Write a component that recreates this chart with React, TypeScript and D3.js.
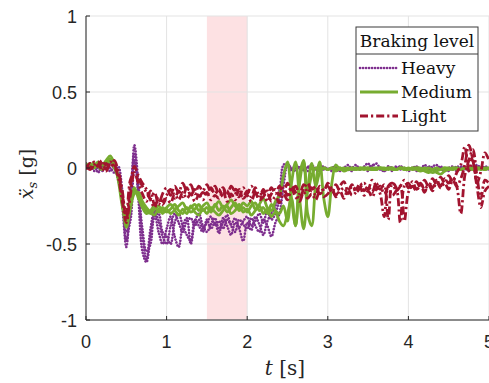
import React from "react";
import * as d3 from "d3";

const W = 489;
const H = 383;

const xTicks = [0, 1, 2, 3, 4, 5];
const yTicks = [-1, -0.5, 0, 0.5, 1];
const yTickLabels = ["-1", "-0.5", "0", "0.5", "1"];
const shadedWindow = [1.5, 2.0];
const sampleStep = 0.05;

const heavy1 = [
  0.02, 0.01, 0.03, 0.0, -0.02, 0.02, 0.0, -0.03, 0.01, -0.15,
  -0.48, -0.3, 0.15, -0.1, -0.45, -0.6, -0.4, -0.28, -0.35, -0.45,
  -0.5, -0.38, -0.3, -0.36, -0.42, -0.35, -0.33, -0.38, -0.34, -0.4,
  -0.36, -0.32, -0.38, -0.35, -0.4, -0.34, -0.37, -0.33, -0.39, -0.35,
  -0.32, -0.38, -0.35, -0.3, -0.36, -0.28, -0.34, -0.3, -0.2, 0.02,
  0.03, -0.01, 0.02, -0.01, 0.0, -0.02, 0.01, -0.01, -0.02, 0.0,
  -0.01, 0.0, -0.02, -0.01, 0.0, -0.01, -0.02, 0.0, -0.01, 0.01,
  0.03, -0.01, 0.0, -0.01, -0.02, 0.0, -0.01, 0.01, -0.01, 0.0,
  -0.01, 0.0, -0.02, 0.0, -0.01, 0.01, 0.0, -0.01, 0.0, -0.02,
  0.0, -0.01, 0.01, 0.0, -0.01, 0.0, 0.01, -0.01, 0.0, 0.0,
  -0.01,
];
const heavy2 = [
  0.0, 0.03, -0.02, 0.01, 0.02, -0.01, 0.03, 0.0, -0.05, -0.25,
  -0.52, -0.2, 0.1, -0.2, -0.55, -0.62, -0.45, -0.3, -0.42, -0.5,
  -0.4, -0.32, -0.45, -0.52, -0.38, -0.33, -0.5, -0.36, -0.3, -0.38,
  -0.42, -0.37, -0.33, -0.4, -0.36, -0.31, -0.38, -0.42, -0.34, -0.37,
  -0.4, -0.33, -0.38, -0.42, -0.34, -0.38, -0.45, -0.36, -0.3, -0.12,
  0.02, -0.02, 0.0, 0.01, -0.02, 0.01, -0.01, 0.0, 0.01, -0.01,
  0.0, -0.02, 0.01, -0.01, 0.0, 0.02, -0.01, 0.0, -0.01, 0.0,
  -0.02, 0.01, 0.03, 0.0, -0.01, 0.01, -0.02, 0.0, 0.01, -0.01,
  0.0, -0.01, 0.01, -0.02, 0.0, -0.01, 0.01, 0.02, -0.01, 0.0,
  -0.02, 0.0, -0.01, 0.01, 0.0, -0.02, 0.0, 0.01, -0.01, 0.01,
  0.0,
];
const heavy3 = [
  0.03, 0.0, 0.02, -0.03, 0.01, 0.0, -0.02, 0.01, -0.08, -0.2,
  -0.42, -0.35, 0.05, -0.15, -0.4, -0.55, -0.5, -0.32, -0.3, -0.42,
  -0.45, -0.5, -0.36, -0.3, -0.38, -0.44, -0.48, -0.34, -0.38, -0.42,
  -0.34, -0.4, -0.36, -0.43, -0.33, -0.38, -0.44, -0.36, -0.4, -0.48,
  -0.36, -0.41, -0.32, -0.37, -0.44, -0.35, -0.3, -0.25, -0.15, -0.05,
  0.02, 0.0, -0.02, 0.01, -0.01, 0.0, 0.02, -0.01, 0.0, 0.01,
  -0.01, 0.0, 0.01, -0.02, 0.0, -0.01, 0.0, 0.02, -0.01, 0.0,
  0.0, 0.02, -0.01, 0.0, -0.02, 0.01, 0.0, -0.01, 0.01, 0.0,
  -0.02, 0.0, 0.01, -0.01, 0.02, 0.0, -0.01, 0.0, 0.01, -0.01,
  0.0, 0.01, -0.02, 0.0, 0.01, -0.01, 0.0, 0.02, 0.0, -0.01,
  0.0,
];

const medium1 = [
  0.02, 0.0, 0.03, 0.01, -0.01, 0.04, 0.06, 0.02, -0.05, -0.2,
  -0.37, -0.25, -0.15, -0.18, -0.24, -0.28, -0.3, -0.27, -0.25, -0.28,
  -0.26, -0.24, -0.27, -0.25, -0.23, -0.27, -0.26, -0.24, -0.28, -0.25,
  -0.23, -0.27, -0.25, -0.22, -0.26, -0.24, -0.21, -0.25, -0.27, -0.23,
  -0.25, -0.22, -0.27, -0.24, -0.2, -0.26, -0.28, -0.22, -0.18, -0.05,
  0.04, -0.2, -0.38, -0.1, 0.04, -0.15, -0.05, 0.0, -0.01, 0.0,
  -0.01, 0.0, -0.01, 0.0, -0.02, -0.01, 0.0, -0.01, 0.0, -0.01,
  0.0, -0.01, -0.01, 0.0, -0.01, 0.0, -0.01, -0.01, 0.0, -0.01,
  -0.01, 0.0, -0.01, -0.02, -0.01, 0.0, -0.01, -0.03, -0.04, -0.02,
  -0.01, 0.0, -0.01, -0.01, 0.0, -0.01, 0.0, -0.01, 0.0, -0.01,
  0.0,
];
const medium2 = [
  0.0, 0.03, 0.01, 0.04, 0.02, 0.05, 0.08, 0.03, -0.08, -0.25,
  -0.35, -0.22, -0.13, -0.2, -0.26, -0.3, -0.28, -0.25, -0.29, -0.26,
  -0.29, -0.27, -0.24, -0.28, -0.3, -0.26, -0.29, -0.27, -0.24, -0.28,
  -0.26, -0.29, -0.24, -0.28, -0.25, -0.29, -0.26, -0.23, -0.28, -0.26,
  -0.29, -0.25, -0.23, -0.28, -0.26, -0.3, -0.24, -0.28, -0.3, -0.25,
  -0.35, -0.1, 0.04, -0.2, -0.4, -0.15, 0.03, -0.12, -0.03, 0.0,
  -0.01, 0.0, -0.02, 0.0, -0.01, 0.0, -0.01, 0.0, -0.01, 0.0,
  -0.01, 0.0, -0.01, 0.0, 0.0, -0.01, 0.0, -0.01, 0.0, 0.0,
  -0.01, 0.0, 0.0, -0.01, 0.0, -0.02, -0.03, -0.02, -0.01, 0.0,
  0.0, -0.01, 0.0, -0.01, 0.0, 0.0, -0.01, 0.0, 0.0, -0.01,
  0.0,
];
const medium3 = [
  0.03, 0.01, 0.0, 0.02, 0.03, 0.02, 0.05, 0.0, -0.06, -0.22,
  -0.39, -0.27, -0.17, -0.16, -0.22, -0.26, -0.29, -0.31, -0.27, -0.3,
  -0.27, -0.3, -0.28, -0.31, -0.27, -0.3, -0.25, -0.29, -0.31, -0.27,
  -0.3, -0.26, -0.29, -0.31, -0.28, -0.25, -0.3, -0.28, -0.24, -0.29,
  -0.27, -0.31, -0.28, -0.25, -0.3, -0.27, -0.32, -0.29, -0.35, -0.38,
  -0.3, -0.2, -0.38, -0.05, 0.05, -0.3, -0.38, -0.1, 0.04, -0.2,
  -0.32, -0.1, 0.02, -0.01, 0.0, -0.01, 0.0, -0.01, 0.0, 0.0,
  0.0, -0.01, 0.0, 0.0, -0.01, 0.0, 0.0, -0.01, 0.0, -0.01,
  0.0, -0.01, 0.0, 0.0, -0.02, -0.03, -0.01, 0.0, -0.01, 0.0,
  -0.01, 0.0, 0.0, -0.01, 0.0, -0.01, 0.0, 0.0, -0.01, 0.0,
  0.0,
];

const light1 = [
  0.01, -0.01, 0.02, 0.04, -0.02, 0.03, 0.0, 0.05, -0.02, -0.15,
  -0.34, -0.12, 0.01, -0.05, -0.1, -0.14, -0.2, -0.16, -0.24, -0.17,
  -0.13, -0.18, -0.12, -0.16, -0.1, -0.15, -0.11, -0.17, -0.12, -0.15,
  -0.11, -0.16, -0.12, -0.17, -0.13, -0.18, -0.12, -0.16, -0.19, -0.13,
  -0.17, -0.12, -0.16, -0.2, -0.14, -0.18, -0.13, -0.17, -0.12, -0.16,
  -0.1, -0.15, -0.12, -0.17, -0.11, -0.16, -0.13, -0.18, -0.12, -0.15,
  -0.1, -0.14, -0.18, -0.12, -0.09, -0.15, -0.11, -0.16, -0.13, -0.1,
  -0.14, -0.08, -0.12, -0.17, -0.32, -0.12, -0.1, -0.15, -0.12, -0.08,
  -0.13, -0.09, -0.14, -0.11, -0.16, -0.1, -0.13, -0.08, -0.12, -0.07,
  -0.1, -0.06, -0.12, -0.3, -0.05, 0.05, 0.12, -0.05, -0.2, -0.08,
  -0.1,
];
const light2 = [
  -0.01, 0.03, 0.0, 0.02, 0.05, -0.01, 0.04, 0.02, -0.04, -0.18,
  -0.3, -0.08, -0.03, -0.1, -0.17, -0.22, -0.15, -0.24, -0.19, -0.22,
  -0.18, -0.14, -0.2, -0.15, -0.19, -0.13, -0.18, -0.14, -0.19, -0.16,
  -0.18, -0.13, -0.17, -0.14, -0.19, -0.15, -0.2, -0.14, -0.16, -0.19,
  -0.15, -0.19, -0.13, -0.18, -0.16, -0.22, -0.17, -0.14, -0.18, -0.13,
  -0.18, -0.12, -0.16, -0.2, -0.14, -0.1, -0.15, -0.12, -0.17, -0.14,
  -0.12, -0.16, -0.11, -0.15, -0.13, -0.17, -0.12, -0.14, -0.1, -0.15,
  -0.12, -0.16, -0.1, -0.14, -0.11, -0.34, -0.1, -0.13, -0.36, -0.12,
  -0.1, -0.14, -0.09, -0.13, -0.08, -0.12, -0.07, -0.11, -0.06, -0.1,
  -0.05, -0.09, -0.03, 0.02, 0.14, -0.02, 0.08, -0.1, -0.02, 0.1,
  0.05,
];
const light3 = [
  0.02, 0.0, 0.04, 0.01, 0.03, -0.02, 0.03, 0.01, -0.06, -0.22,
  -0.36, -0.18, -0.04, -0.07, -0.12, -0.16, -0.21, -0.26, -0.2, -0.24,
  -0.2, -0.23, -0.17, -0.21, -0.16, -0.2, -0.17, -0.22, -0.18, -0.21,
  -0.16, -0.21, -0.18, -0.2, -0.15, -0.22, -0.17, -0.21, -0.14, -0.2,
  -0.18, -0.22, -0.16, -0.21, -0.19, -0.15, -0.22, -0.19, -0.23, -0.17,
  -0.21, -0.14, -0.19, -0.22, -0.16, -0.2, -0.17, -0.21, -0.15, -0.19,
  -0.17, -0.13, -0.19, -0.15, -0.2, -0.14, -0.18, -0.16, -0.13, -0.18,
  -0.15, -0.19, -0.14, -0.12, -0.17, -0.13, -0.18, -0.15, -0.12, -0.35,
  -0.16, -0.12, -0.15, -0.1, -0.14, -0.11, -0.15, -0.09, -0.13, -0.1,
  -0.14, -0.08, -0.12, -0.07, 0.02, 0.15, 0.05, -0.12, -0.26, -0.15,
  -0.12,
];

const levels = [
  { name: "Heavy", color: "#7E2F8E", dash: "0.1 2.9", width: 2.6, cap: "round", traces: [heavy1, heavy2, heavy3] },
  { name: "Medium", color: "#77AC30", dash: "none", width: 2.8, cap: "butt", traces: [medium1, medium2, medium3] },
  { name: "Light", color: "#A2142F", dash: "8 3 2.2 3", width: 2.8, cap: "butt", traces: [light1, light2, light3] },
];

const margin = { left: 86, top: 16, right: 0, bottom: 63 };

export default function App() {
  const x = d3.scaleLinear().domain([0, 5]).range([margin.left, W - margin.right]);
  const y = d3.scaleLinear().domain([-1, 1]).range([H - margin.bottom, margin.top]);
  const line = d3
    .line<number>()
    .x((_, i) => x(i * sampleStep))
    .y((v) => y(v))
    .curve(d3.curveCatmullRom.alpha(0.5));

  const tickFont = "Liberation Sans, Arial, sans-serif";
  const serif = "DejaVu Serif, serif";
  const axisColor = "#262626";
  const gridColor = "#e3e3e3";

  const lg = { x0: 356, y0: 27, x1: 478, y1: 131, sep: 54 };
  const entryY = [68, 92, 116];

  return (
    <svg
      width={W}
      height={H}
      style={{ position: "absolute", left: 0, top: 0, background: "#fff" }}
    >
      <defs>
        <clipPath id="plotClip">
          <rect x={x(0)} y={y(1)} width={x(5) - x(0)} height={y(-1) - y(1)} />
        </clipPath>
      </defs>
      <rect x={0} y={0} width={W} height={H} fill="#fff" />
      <rect
        x={x(shadedWindow[0])}
        y={y(1)}
        width={x(shadedWindow[1]) - x(shadedWindow[0])}
        height={y(-1) - y(1)}
        fill="#fde1e3"
      />
      {xTicks.map((t) => (
        <line key={"gx" + t} x1={x(t)} x2={x(t)} y1={y(-1)} y2={y(1)} stroke={gridColor} strokeWidth={1} />
      ))}
      {yTicks.map((t) => (
        <line key={"gy" + t} x1={x(0)} x2={x(5)} y1={y(t)} y2={y(t)} stroke={gridColor} strokeWidth={1} />
      ))}
      <g clipPath="url(#plotClip)">
        {levels.map((lv) =>
          lv.traces.map((tr, k) => (
            <path
              key={lv.name + k}
              d={line(tr) || ""}
              fill="none"
              stroke={lv.color}
              strokeWidth={lv.width}
              strokeDasharray={lv.dash}
              strokeLinecap={lv.cap as any}
              strokeLinejoin="round"
            />
          ))
        )}
      </g>
      <line x1={x(0)} x2={x(0)} y1={y(-1)} y2={y(1)} stroke={axisColor} strokeWidth={1} />
      <line x1={x(0)} x2={x(5)} y1={y(-1)} y2={y(-1)} stroke={axisColor} strokeWidth={1} />
      {xTicks.map((t) => (
        <g key={"xt" + t}>
          <line x1={x(t)} x2={x(t)} y1={y(-1)} y2={y(-1) - 4} stroke={axisColor} />
          <text
            x={x(t)}
            y={y(-1) + 28}
            textAnchor="middle"
            style={{ fontFamily: tickFont, fontSize: "18px" }}
            fill={axisColor}
          >
            {t}
          </text>
        </g>
      ))}
      {yTicks.map((t, i) => (
        <g key={"yt" + t}>
          <line x1={x(0)} x2={x(0) + 4} y1={y(t)} y2={y(t)} stroke={axisColor} />
          <text
            x={x(0) - 9}
            y={y(t) + 6.5}
            textAnchor="end"
            style={{ fontFamily: tickFont, fontSize: "18px" }}
            fill={axisColor}
          >
            {yTickLabels[i]}
          </text>
        </g>
      ))}
      <text
        x={285}
        y={375}
        textAnchor="middle"
        style={{ fontFamily: serif, fontSize: "20px" }}
        fill={axisColor}
      >
        <tspan fontStyle="italic">t</tspan>
        <tspan> [s]</tspan>
      </text>
      <text
        transform={`translate(33, ${174}) rotate(-90)`}
        textAnchor="middle"
        style={{ fontFamily: serif, fontSize: "19px" }}
        fill={axisColor}
      >
        <tspan fontStyle="italic">{"\u1E8D"}</tspan>
        <tspan fontStyle="italic" style={{ fontSize: "13px" }} dy={4}>s</tspan>
        <tspan dy={-4}> [g]</tspan>
      </text>
      <rect
        x={lg.x0}
        y={lg.y0}
        width={lg.x1 - lg.x0}
        height={lg.y1 - lg.y0}
        fill="#fff"
        stroke="#3a3a3a"
        strokeWidth={1}
      />
      <line x1={lg.x0} x2={lg.x1} y1={lg.sep} y2={lg.sep} stroke="#3a3a3a" strokeWidth={1} />
      <text
        x={(lg.x0 + lg.x1) / 2}
        y={47}
        textAnchor="middle"
        style={{ fontFamily: serif, fontSize: "17px" }}
        fill="#111"
      >
        Braking level
      </text>
      {levels.map((lv, i) => (
        <g key={"lg" + lv.name}>
          <line
            x1={360}
            x2={398}
            y1={entryY[i]}
            y2={entryY[i]}
            stroke={lv.color}
            strokeWidth={lv.width}
            strokeDasharray={lv.dash}
            strokeLinecap={lv.cap as any}
          />
          <text x={401} y={entryY[i] + 6} style={{ fontFamily: serif, fontSize: "17px" }} fill="#111">
            {lv.name}
          </text>
        </g>
      ))}
    </svg>
  );
}
